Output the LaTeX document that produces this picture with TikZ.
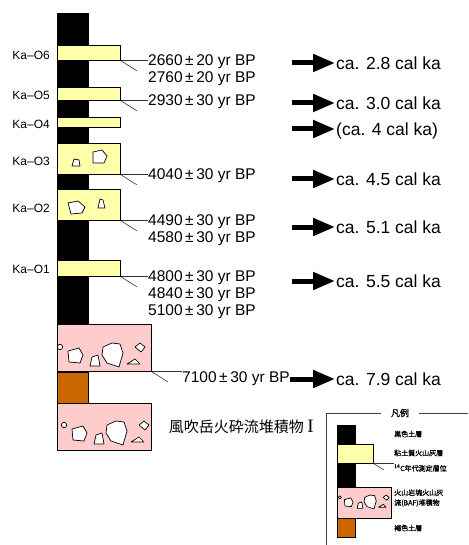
\documentclass[tikz,border=0pt]{standalone}
\usepackage{fontspec}
\setmainfont{Liberation Sans}
\newfontfamily\jpfont{Noto Sans CJK JP}
\newfontfamily\jplegend{Noto Sans CJK JP}[FakeBold=1.2]
\newfontfamily\serifI{Liberation Serif}
\usetikzlibrary{arrows.meta,positioning}
\definecolor{tephra}{RGB}{255,255,170}
\definecolor{baf}{RGB}{255,204,204}
\definecolor{brownsoil}{RGB}{204,102,0}
\begin{document}
\begin{tikzpicture}[
  x=1pt,
  y=-1pt,
  layer/.style={draw=black, line width=0.7pt, inner sep=0pt, anchor=north west},
  black soil/.style={layer, fill=black, minimum width=31pt},
  tephra layer/.style={layer, fill=tephra, minimum width=63pt},
  baf layer/.style={layer, fill=baf, minimum width=94pt},
  brown soil/.style={layer, fill=brownsoil, minimum width=31pt},
  clast/.style={draw=black, line width=0.7pt, fill=white, line join=round},
  leader/.style={draw=black!80, line width=0.6pt},
  frame/.style={draw=black!75, line width=0.8pt},
  tephra name/.style={
    font=\fontsize{12}{13}\selectfont,
    inner sep=0pt,
    text height=10.3pt,
    text depth=1.7pt,
    anchor=east
  },
  date/.style={
    font=\fontsize{15.5}{17}\selectfont,
    inner sep=0pt,
    text height=13.8pt,
    text depth=2.7pt,
    anchor=west
  },
  age/.style={
    font=\fontsize{17.5}{20}\selectfont,
    inner sep=1pt,
    text height=15pt,
    text depth=2.4pt,
    anchor=west
  },
  age arrow/.style={line width=5pt, -{Triangle[length=22pt,width=17pt]}},
  legend text/.style={
    font=\jplegend\fontsize{7}{10}\selectfont,
    inner sep=0pt,
    anchor=west,
    align=left
  },
  clasts/.pic={
    \draw[clast] (3,23) circle[radius=2.7pt];
    \draw[clast] (11,27) -- (22,24) -- (26,31) -- (23,39) -- (12,38) -- cycle;
    \draw[clast] (35,33) -- (41,31) -- (43,42) -- (33,42) -- cycle;
    \draw[clast] (46,23) -- (55,19) -- (63,20) -- (66,29) -- (62,43) -- (50,39) -- (45,31) -- cycle;
    \draw[clast] (70,40) -- (78,35) -- (83,40) -- cycle;
    \draw[clast] (78,23) -- (83,19) -- (88,23) -- (84,28) -- cycle;
  }
]
  \useasboundingbox (0,0) rectangle (468,545);

  % section
  \node[black soil, minimum height=311pt] (soil) at (57,13) {};
  \node[tephra layer, minimum height=15pt] (o6) at (57,45) {};
  \node[tephra layer, minimum height=13pt] (o5) at (57,87) {};
  \node[tephra layer, minimum height=10pt] (o4) at (57,117) {};
  \node[tephra layer, minimum height=31pt] (o3) at (57,143) {};
  \node[tephra layer, minimum height=31pt] (o2) at (57,189) {};
  \node[tephra layer, minimum height=16pt] (o1) at (57,260) {};
  \node[baf layer, minimum height=47pt] (baf1) at (57,324) {};
  \node[brown soil, minimum height=31pt] (brown) at (baf1.south west) {};
  \node[baf layer, minimum height=47pt] (baf2) at (brown.south west) {};

  \draw[clast] (72,166) -- (74,159) -- (79,160) -- (80,166) -- cycle;
  \draw[clast] (93,152) -- (102,150) -- (107,156) -- (104,163) -- (93,163) -- cycle;
  \draw[clast] (68,203) -- (78,201) -- (85,207) -- (82,213) -- (71,214) -- cycle;
  \draw[clast] (98,208) -- (100,199) -- (103,200) -- (105,208) -- cycle;
  \pic at (57,324) {clasts};
  \pic at (61,402) {clasts};

  \node[tephra name] (n6) at (50,55) {Ka–O6};
  \node[tephra name] (n5) at (50,95) {Ka–O5};
  \node[tephra name] (n4) at (50,124) {Ka–O4};
  \node[tephra name] (n3) at (50,161) {Ka–O3};
  \node[tephra name] (n2) at (50,208) {Ka–O2};
  \node[tephra name] (n1) at (50,269) {Ka–O1};

  % radiocarbon dates
  \node[date] (d6) at (148,60) {2660\,±\,20 yr BP};
  \node[date, below=0pt of d6.south west, anchor=north west] (d6b) {2760\,±\,20 yr BP};
  \node[date] (d5) at (148,100) {2930\,±\,30 yr BP};
  \node[date] (d3) at (148,174) {4040\,±\,30 yr BP};
  \node[date] (d2) at (148,220) {4490\,±\,30 yr BP};
  \node[date, below=0pt of d2.south west, anchor=north west] (d2b) {4580\,±\,30 yr BP};
  \node[date] (d1) at (148,276) {4800\,±\,30 yr BP};
  \node[date, below=0pt of d1.south west, anchor=north west] (d1b) {4840\,±\,30 yr BP};
  \node[date, below=0pt of d1b.south west, anchor=north west] (d1c) {5100\,±\,30 yr BP};
  \node[date] (d7) at (182,377) {7100\,±\,30 yr BP};

  \foreach \b/\d in {o6/d6, o5/d5, o3/d3, o2/d2, o1/d1, baf1/d7} {
    \draw[leader] (\b.south east) -- (\d.west |- \b.south east);
    \draw[leader] (\b.south east) -- ++(16,10);
  }

  % calibrated ages
  \foreach \y/\t [count=\i] in {63/ca. 2.8 cal ka, 103/ca. 3.0 cal ka,
      129/(ca. 4 cal ka), 179/ca. 4.5 cal ka, 227/ca. 5.1 cal ka, 281/ca. 5.5 cal ka} {
    \coordinate (from\i) at (292,\y);
    \node[age] (age\i) at (335,\y) {\t};
    \draw[age arrow] (from\i) -- (age\i.west);
  }
  \node[age] (age7) at (335,379) {ca. 7.9 cal ka};
  \draw[age arrow] (d7.east |- age7.west) -- (age7.west);

  \node[right=17pt of baf2, inner sep=0pt, font=\jpfont\fontsize{15}{18}\selectfont] (bafname)
    {風吹岳火砕流堆積物 {\serifI\fontsize{19}{20}\selectfont I}};

  % legend
  \node[inner xsep=10pt, inner ysep=0pt, font=\jplegend\fontsize{9}{10}\selectfont] (lgtitle) at (400,413) {凡例};
  \draw[frame] (lgtitle.west) -- (326,413) -- (326,545);
  \draw[frame] (lgtitle.east) -- (468,413);

  \node[black soil, minimum width=18pt, minimum height=61pt] (lgsoil) at (337,425) {};
  \node[tephra layer, minimum width=36pt, minimum height=19pt] (lgtephra) at (337,444) {};
  \node[baf layer, minimum width=54pt, minimum height=31pt] (lgbaf) at (lgsoil.south west) {};
  \pic[scale=0.58] at (338,484) {clasts};
  \node[brown soil, minimum width=18pt, minimum height=19pt] (lgbrown) at (lgbaf.south west) {};

  \node[legend text] (lg1) at (394,434) {黒色土層};
  \node[legend text] (lg2) at (394,453) {粘土質火山灰層};
  \node[legend text] (lg3) at (394,468) {\textsuperscript{14}C年代測定層位};
  \node[legend text] (lg4) at (394,498) {火山岩塊火山灰\\流(BAF)堆積物};
  \node[legend text] (lg5) at (394,528) {褐色土層};
  \draw[leader] (lgtephra.south east) -- (lg3.west |- lgtephra.south east);
  \draw[leader] (lgtephra.south east) -- ++(10,6);
\end{tikzpicture}
\end{document}
